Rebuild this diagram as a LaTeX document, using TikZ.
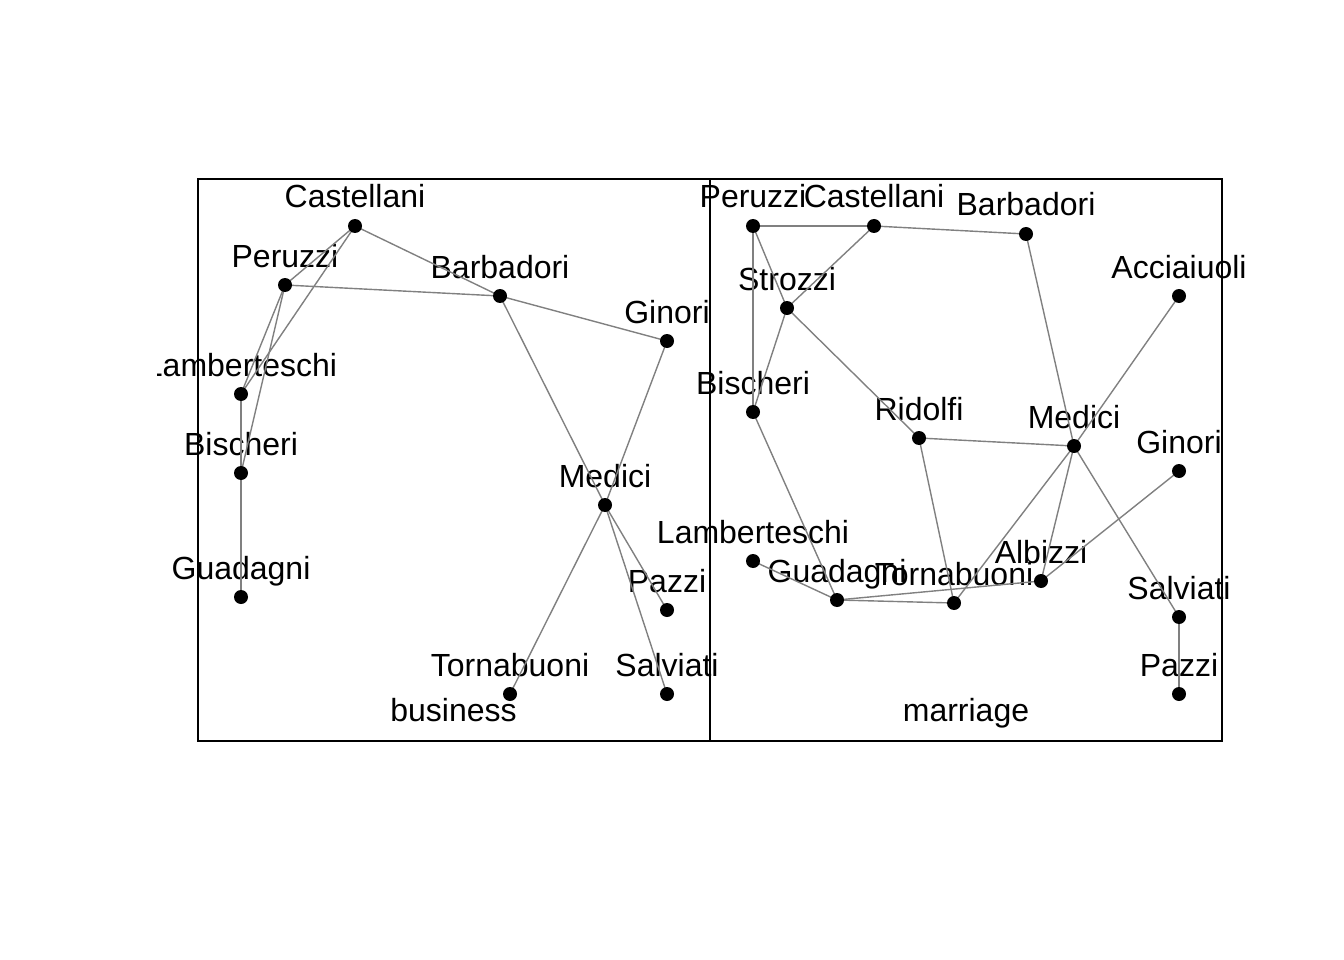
\documentclass[tikz,border=0pt]{standalone}
\usepackage{fontspec}
\setmainfont{Liberation Sans}
\begin{document}
\begin{tikzpicture}[x=1pt,y=-1pt,
  pt/.style={circle,fill=black,inner sep=0pt,minimum size=14pt},
  lbl/.style={anchor=base,inner sep=0pt,font=\fontsize{32}{32}\selectfont},
  edge/.style={draw=black!50,line width=1.4pt},
  frame/.style={draw=black,line width=1.5pt}]
\useasboundingbox (0,0) rectangle (1344,960);
% ---------- left: business ----------
\begin{scope}
\clip (157,0) rectangle (1344,960);
\foreach \n/\x/\y/\t in {LCas/355/226/Castellani,LPer/285/285/Peruzzi,LBar/500/296/Barbadori,LGin/667/341/Ginori,LLam/241/394/Lamberteschi,LBis/241/473/Bischeri,LGua/241/597/Guadagni,LMed/605/505/Medici,LPaz/667/610/Pazzi,LTor/510/694/Tornabuoni,LSal/667/694/Salviati}{
  \coordinate (\n) at (\x,\y);
  \node[lbl] at (\x,\y-18) {\t};
}
\end{scope}
% ---------- right: marriage ----------
\foreach \n/\x/\y/\t in {RPer/753/226/Peruzzi,RCas/874/226/Castellani,RBar/1026/234/Barbadori,RAcc/1179/296/Acciaiuoli,RStr/787/308/Strozzi,RBis/753/412/Bischeri,RRid/919/438/Ridolfi,RMed/1074/446/Medici,RGin/1179/471/Ginori,RLam/753/561/Lamberteschi,RGua/837/600/Guadagni,RTor/954/603/Tornabuoni,RAlb/1041/581/Albizzi,RSal/1179/617/Salviati,RPaz/1179/694/Pazzi}{
  \coordinate (\n) at (\x,\y);
  \node[lbl] at (\x,\y-18) {\t};
}
\node[lbl] (tb) at (453.5,721.5) {business};
\node[lbl] (tm) at (966,721.5) {marriage};
% edges business
\foreach \a/\b in {LBar/LCas,LBar/LGin,LBar/LMed,LBar/LPer,LBis/LGua,LBis/LLam,LBis/LPer,LCas/LLam,LCas/LPer,LGua/LLam,LLam/LPer,LMed/LPaz,LMed/LSal,LMed/LTor,LMed/LGin}
  \draw[edge] (\a) -- (\b);
% edges marriage
\foreach \a/\b in {RAcc/RMed,RAlb/RGin,RAlb/RGua,RAlb/RMed,RBar/RCas,RBar/RMed,RBis/RGua,RBis/RPer,RBis/RStr,RCas/RPer,RCas/RStr,RGua/RLam,RGua/RTor,RMed/RRid,RMed/RSal,RMed/RTor,RPaz/RSal,RPer/RStr,RRid/RStr,RRid/RTor}
  \draw[edge] (\a) -- (\b);
% points
\foreach \n in {LCas,LPer,LBar,LGin,LLam,LBis,LGua,LMed,LPaz,LTor,LSal,RPer,RCas,RBar,RAcc,RStr,RBis,RRid,RMed,RGin,RLam,RGua,RTor,RAlb,RSal,RPaz}
  \node[pt] at (\n) {};
% frames
\coordinate (f1) at (198,179);
\coordinate (f2) at (710,741);
\coordinate (f3) at (1222,179);
\draw[frame] (f1) rectangle (f2);
\draw[frame] (f2) rectangle (f3);
\end{tikzpicture}
\end{document}
